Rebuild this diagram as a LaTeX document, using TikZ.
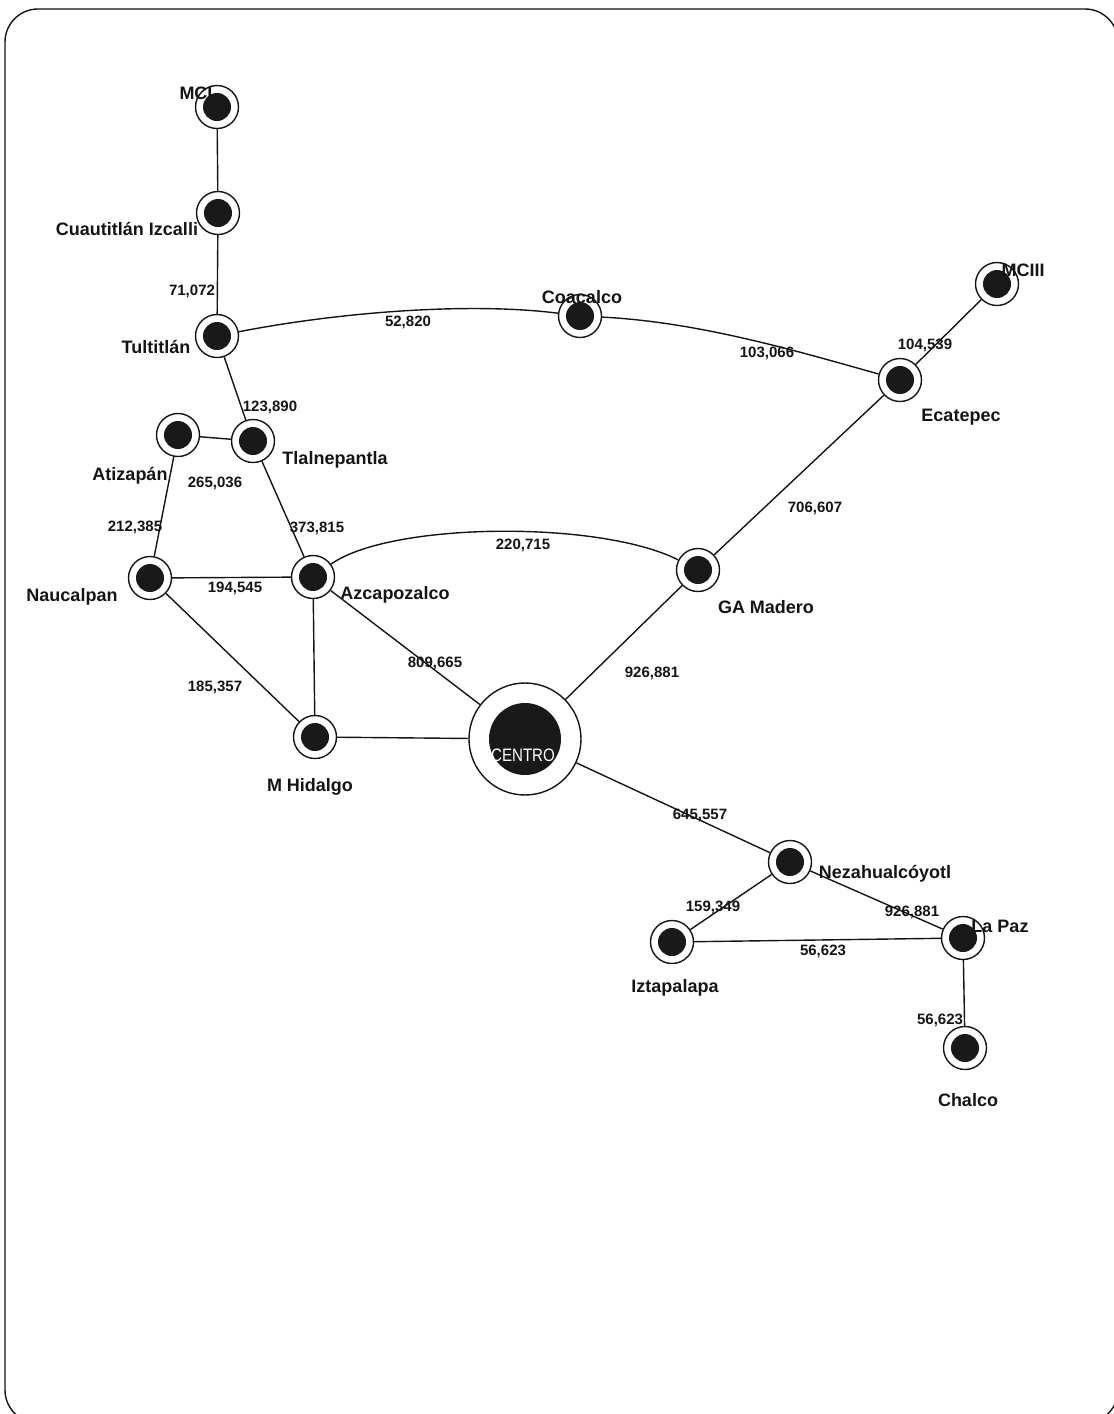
\documentclass[tikz,border=0pt]{standalone}
\usepackage{fontspec}
\setmainfont{Liberation Sans}
\begin{document}
\begin{tikzpicture}[x=1pt,y=-1pt,
  ink/.style={draw=black!92,line width=1.4pt},
  station/.style={circle,ink,fill=white,minimum size=43pt,inner sep=0pt,
    path picture={\fill[black!90] (path picture bounding box.center) circle (14pt);}},
  hub/.style={circle,ink,fill=white,minimum size=112pt,inner sep=0pt,
    path picture={\fill[black!90] (path picture bounding box.center) circle (36pt);}},
  link/.style={ink},
  place/.style={inner sep=0pt,text=black!92,font=\bfseries\fontsize{18}{20}\selectfont},
  flow/.style={inner sep=0pt,text=black!92,font=\bfseries\fontsize{15}{17}\selectfont},
]
\useasboundingbox (0,0) rectangle (1114,1414);
\begin{scope}
\clip (0,0) rectangle (1114,1414);
\draw[ink,rounded corners=33pt] (5,9) rectangle (1118,1423);
\end{scope}

% stations
\node[station] (mci)   at (217,107) {};
\node[station] (cuau)  at (218,213) {};
\node[station] (tult)  at (217,336) {};
\node[station] (coac)  at (580,316) {};
\node[station] (mciii) at (997,284) {};
\node[station] (ecat)  at (900,380) {};
\node[station] (atiz)  at (178,435) {};
\node[station] (tlal)  at (253,441) {};
\node[station] (nauc)  at (150,578) {};
\node[station] (azca)  at (313,577) {};
\node[station] (gam)   at (698,570) {};
\node[station] (mhid)  at (315,737) {};
\node[hub]     (cen)   at (525,739) {};
\node[station] (neza)  at (790,862) {};
\node[station] (izta)  at (672,942) {};
\node[station] (lapaz) at (963,938) {};
\node[station] (chal)  at (965,1048) {};

% links
\draw[link] (mci) -- (cuau);
\draw[link] (cuau) -- (tult);
\draw[link] (tult) .. controls (340,312) and (470,302) .. (coac);
\draw[link] (coac) .. controls (700,322) and (800,352) .. (ecat);
\draw[link] (ecat) -- (mciii);
\draw[link] (tult) -- (tlal);
\draw[link] (atiz) -- (tlal);
\draw[link] (atiz) -- (nauc);
\draw[link] (tlal) -- (azca);
\draw[link] (nauc) -- (azca);
\draw[link] (azca) .. controls (390,522) and (600,520) .. (gam);
\draw[link] (ecat) -- (gam);
\draw[link] (nauc) -- (mhid);
\draw[link] (azca) -- (mhid);
\draw[link] (mhid) -- (cen);
\draw[link] (azca) -- (cen);
\draw[link] (gam) -- (cen);
\draw[link] (cen) -- (neza);
\draw[link] (neza) -- (izta);
\draw[link] (neza) -- (lapaz);
\draw[link] (izta) -- (lapaz);
\draw[link] (lapaz) -- (chal);

% station names
\node[place] (tmci)   at (196,93)   {MCI};
\node[place] (tcuau)  at (127,229)  {Cuautitlán Izcalli};
\node[place] (ttult)  at (156,347)  {Tultitlán};
\node[place] (tcoac)  at (582,297)  {Coacalco};
\node[place] (tmciii) at (1023,270) {MCIII};
\node[place] (tecat)  at (961,417)  {Ecatepec};
\node[place] (tatiz)  at (130,476)  {Atizapán};
\node[place] (ttlal)  at (335,460)  {Tlalnepantla};
\node[place] (tnauc)  at (72,597)   {Naucalpan};
\node[place] (tazca)  at (395,595)  {Azcapozalco};
\node[place] (tgam)   at (766,607)  {GA Madero};
\node[place] (tmhid)  at (310,787)  {M Hidalgo};
\node[place] (tneza)  at (885,874)  {Nezahualcóyotl};
\node[place] (tizta)  at (675,988)  {Iztapalapa};
\node[place] (tlapaz) at (1000,926) {La Paz};
\node[place] (tchal)  at (968,1100) {Chalco};
\node[inner sep=0pt,text=white,font=\fontsize{18}{20}\selectfont] (tcen) at (523,755) {\scalebox{0.84}[1]{CENTRO}};

% flows
\node[flow] (f1)  at (192,291)  {71,072};
\node[flow] (f2)  at (408,322)  {52,820};
\node[flow] (f3)  at (767,353)  {103,066};
\node[flow] (f4)  at (925,345)  {104,539};
\node[flow] (f5)  at (270,407)  {123,890};
\node[flow] (f6)  at (215,483)  {265,036};
\node[flow] (f7)  at (135,527)  {212,385};
\node[flow] (f8)  at (317,528)  {373,815};
\node[flow] (f9)  at (235,588)  {194,545};
\node[flow] (f10) at (523,545)  {220,715};
\node[flow] (f11) at (815,508)  {706,607};
\node[flow] (f12) at (215,687)  {185,357};
\node[flow] (f13) at (435,663)  {809,665};
\node[flow] (f14) at (652,673)  {926,881};
\node[flow] (f15) at (700,815)  {645,557};
\node[flow] (f16) at (713,907)  {159,349};
\node[flow] (f17) at (912,912)  {926,881};
\node[flow] (f18) at (823,951)  {56,623};
\node[flow] (f19) at (940,1020) {56,623};
\end{tikzpicture}
\end{document}
